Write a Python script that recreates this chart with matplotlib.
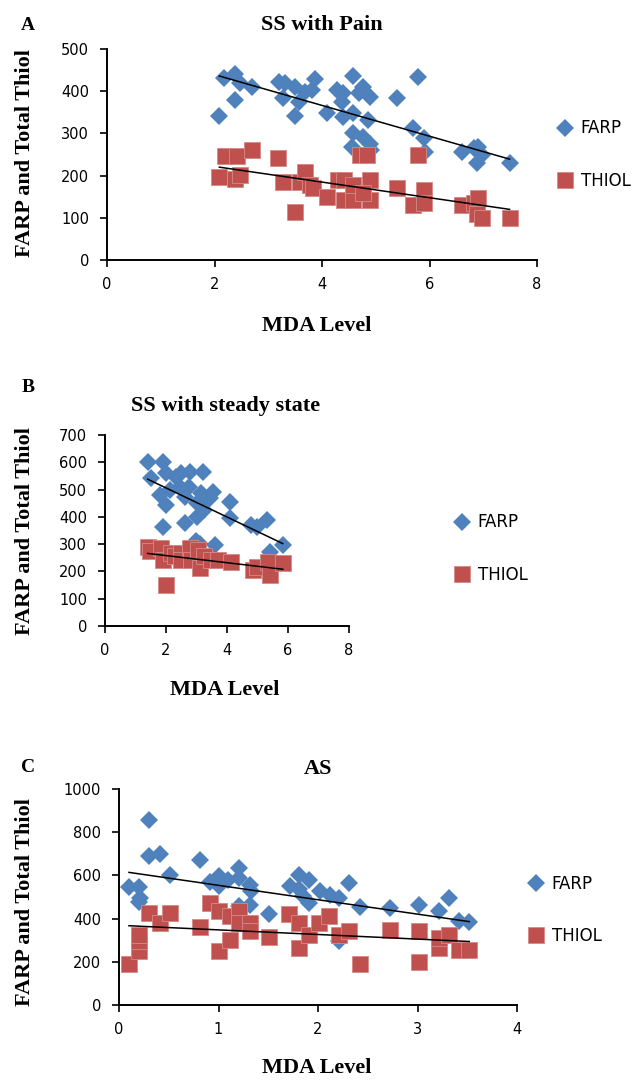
import numpy as np
import matplotlib
matplotlib.use('Agg')
import matplotlib.pyplot as plt

# panel A - SS with Pain
a_farp_x = [2.09, 2.18, 2.38, 2.47, 2.38, 2.69, 3.2, 3.31, 3.28, 3.5, 3.58, 3.5, 3.68, 3.81, 3.87,
            4.09, 4.27, 4.39, 4.37, 4.58, 4.77, 4.68, 4.89, 4.58, 4.39, 4.86, 4.58, 4.77, 4.89, 4.55,
            4.92, 5.39, 5.79, 5.7, 5.89, 5.92, 6.6, 6.82, 6.91, 6.97, 6.88, 7.49]
a_farp_y = [341, 432, 440, 420, 379, 411, 421, 419, 383, 411, 375, 341, 399, 403, 430,
            349, 403, 395, 375, 436, 411, 395, 387, 348, 340, 332, 300, 292, 276, 268,
            261, 385, 434, 312, 288, 257, 257, 265, 268, 249, 229, 231]
a_thiol_x = [2.09, 2.2, 2.41, 2.38, 2.47, 2.69, 3.19, 3.28, 3.5, 3.59, 3.68, 3.78, 3.84, 4.09,
             4.3, 4.4, 4.4, 4.58, 4.58, 4.71, 4.83, 4.89, 4.89, 4.77, 5.39, 5.79, 5.7, 5.89,
             5.89, 6.6, 6.82, 6.91, 6.88, 6.97, 7.49]
a_thiol_y = [197, 246, 246, 191, 201, 261, 241, 186, 114, 186, 209, 178, 170, 150,
             190, 190, 142, 142, 177, 249, 249, 190, 142, 158, 170, 250, 130, 166,
             134, 130, 134, 146, 110, 99, 99]
# trendline values at the first and last MDA level
a_farp_trend = [436, 239]
a_thiol_trend = [220, 120]

# panel B - SS with steady state
b_farp_x = [1.4, 1.5, 1.89, 2.0, 1.81, 1.99, 1.89, 2.13, 2.34, 2.5, 2.46, 2.79, 2.63, 2.63,
            2.75, 3.0, 3.0, 3.2, 3.16, 3.33, 3.24, 3.53, 3.43, 4.1, 4.1, 4.8, 4.97, 5.3,
            5.42, 5.83, 3.61, 2.98, 3.1]
b_farp_y = [602, 541, 602, 559, 480, 443, 364, 498, 547, 559, 510, 565, 474, 376,
            510, 450, 401, 565, 486, 462, 425, 492, 470, 456, 395, 370, 364, 388,
            272, 297, 297, 310, 300]
b_thiol_x = [1.4, 1.48, 1.85, 1.89, 2.01, 2.18, 2.3, 2.5, 2.5, 2.79, 2.83, 3.05, 3.12, 3.24,
             3.49, 3.69, 4.14, 4.85, 4.97, 5.34, 5.42, 5.83]
b_thiol_y = [291, 275, 285, 242, 150, 266, 255, 266, 242, 285, 242, 278, 211, 255,
             242, 242, 236, 205, 217, 236, 187, 230]
b_farp_trend = [538, 302]
b_thiol_trend = [266, 208]

# panel C - AS
c_farp_x = [0.1, 0.2, 0.21, 0.2, 0.3, 0.3, 0.41, 0.51, 0.81, 0.91, 1.0, 1.0, 1.1, 1.21,
            1.21, 1.32, 1.33, 1.32, 1.21, 1.51, 1.72, 1.81, 1.91, 1.81, 1.85, 1.91, 2.02,
            2.12, 2.21, 2.31, 2.42, 2.21, 2.72, 3.02, 3.22, 3.32, 3.42, 3.52]
c_farp_y = [546, 546, 495, 475, 858, 691, 700, 603, 670, 568, 596, 550, 580, 634,
            588, 557, 527, 464, 457, 422, 549, 603, 580, 535, 503, 471, 526,
            510, 495, 565, 453, 296, 449, 464, 433, 495, 387, 382]
c_thiol_x = [0.1, 0.2, 0.2, 0.2, 0.3, 0.41, 0.51, 0.81, 0.91, 1.01, 1.01, 1.12, 1.12, 1.21,
             1.21, 1.32, 1.32, 1.51, 1.71, 1.81, 1.81, 1.91, 2.01, 2.11, 2.21, 2.31, 2.42,
             2.72, 3.02, 3.02, 3.22, 3.22, 3.32, 3.42, 3.52]
c_thiol_y = [190, 248, 295, 325, 425, 379, 425, 363, 472, 248, 433, 302, 410, 433,
             379, 379, 341, 317, 422, 263, 379, 325, 379, 410, 325, 341, 190,
             348, 341, 201, 263, 310, 325, 255, 255]
c_farp_trend = [614, 386]
c_thiol_trend = [367, 294]

BLUE = '#4F81BD'
RED = '#C0504D'
W, H = 644, 1081
SERIF = 'Liberation Serif'
SANS = 'DejaVu Sans'


def rect(left, top, right, bottom):
    return [left / W, 1 - bottom / H, (right - left) / W, (bottom - top) / H]


def ftext(fig, x, y, s, **kw):
    fig.text(x / W, 1 - y / H, s, ha='center', va='center', **kw)


def trend(ax, x, ends):
    ax.plot([min(x), max(x)], ends, color='black', lw=1.1, zorder=5)


def panel(fig, box, farp, thiol, xmax, xstep, ymax, ystep, letter, title, pos, leg):
    ax = fig.add_axes(rect(*box))
    ax.plot(farp[0], farp[1], 'D', color=BLUE, ms=8.8, mew=0, label='FARP', zorder=3)
    ax.plot(thiol[0], thiol[1], 's', color=RED, ms=11.3, mew=0.6, mec='#D48A88',
            label='THIOL', zorder=4)
    trend(ax, farp[0], farp[2])
    trend(ax, thiol[0], thiol[2])

    ax.set_xlim(0, xmax)
    ax.set_ylim(0, ymax)
    ax.set_xticks(np.arange(0, xmax + xstep / 2, xstep))
    ax.set_yticks(np.arange(0, ymax + ystep / 2, ystep))
    for s in ['top', 'right']:
        ax.spines[s].set_visible(False)
    for s in ['left', 'bottom']:
        ax.spines[s].set_linewidth(1.4)
    ax.tick_params(axis='y', direction='out', length=5, width=1.2, pad=8, labelsize=10.5)
    ax.tick_params(axis='x', direction='out', length=5, width=1.2, pad=7, labelsize=10.5)
    for t in ax.get_xticklabels() + ax.get_yticklabels():
        t.set_family(SANS)

    # marker centre of the legend -> anchor the handle box a bit to the left
    ax.legend(loc='center left', bbox_to_anchor=((leg[0] - 8.3) / W, 1 - leg[1] / H),
              bbox_transform=fig.transFigure, frameon=False, borderpad=0,
              borderaxespad=0, handlelength=1.0, handletextpad=0.45, labelspacing=2.05,
              prop={'family': SANS, 'size': 12})

    ftext(fig, pos[0][0], pos[0][1], letter, family=SERIF, weight='bold', fontsize=14)
    ftext(fig, pos[1][0], pos[1][1], title, family=SERIF, weight='bold', fontsize=16)
    ftext(fig, pos[2][0], pos[2][1], 'MDA Level', family=SERIF, weight='bold', fontsize=16)
    ftext(fig, 25, pos[3], 'FARP and Total Thiol', family=SERIF, weight='bold',
          fontsize=16, rotation=90)
    return ax


fig = plt.figure(figsize=(6.44, 10.81), dpi=100)

panel(fig, (107, 49, 537, 260), (a_farp_x, a_farp_y, a_farp_trend),
      (a_thiol_x, a_thiol_y, a_thiol_trend),
      8, 2, 500, 100, 'A', 'SS with Pain',
      [(28, 25), (322, 25), (317, 326), 153], (565, 154.5))
panel(fig, (105, 435, 349, 626), (b_farp_x, b_farp_y, b_farp_trend),
      (b_thiol_x, b_thiol_y, b_thiol_trend),
      8, 2, 700, 100, 'B', 'SS with steady state',
      [(28, 388), (226, 406), (225, 690), 531], (462, 548.5))
panel(fig, (119, 789, 517, 1005), (c_farp_x, c_farp_y, c_farp_trend),
      (c_thiol_x, c_thiol_y, c_thiol_trend),
      4, 1, 1000, 200, 'C', 'AS',
      [(28, 768), (318, 769), (317, 1068), 902], (536, 910))

fig.savefig('out.png', dpi=100)
